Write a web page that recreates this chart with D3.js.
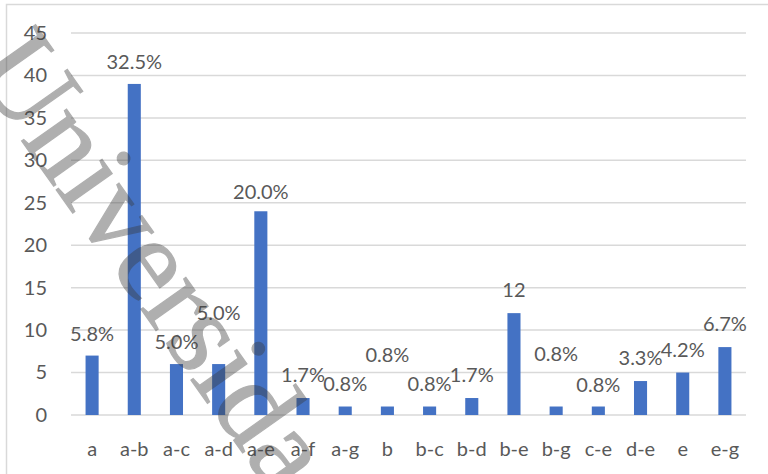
<!DOCTYPE html>
<html><head><meta charset="utf-8">
<script src="https://cdn.jsdelivr.net/npm/d3@7"></script>
<style>
html,body{margin:0;padding:0;background:#fff;}
svg{display:block;}
text{font-family:Lato,"Open Sans",sans-serif;fill:#595959;}
</style></head>
<body><svg id="c" width="768" height="474"></svg>
<script>
const categories = ["a","a-b","a-c","a-d","a-e","a-f","a-g","b","b-c","b-d","b-e","b-g","c-e","d-e","e","e-g"];
const values = [7,39,6,6,24,2,1,1,1,2,12,1,1,4,5,8];
const dataLabels = ["5.8%","32.5%","5.0%","5.0%","20.0%","1.7%","0.8%","0.8%","0.8%","1.7%","12","0.8%","0.8%","3.3%","4.2%","6.7%"];
// label anchor heights (in axis units) as placed in the original
const labelHeights = [9.7,41.7,8.7,12.1,26.4,4.8,3.8,7.2,3.8,4.8,14.8,7.3,3.7,6.8,7.8,10.8];
const yTicks = [0,5,10,15,20,25,30,35,40,45];
const watermark = "Universidad";

const svg = d3.select("#c");
const m = {left:71, right:22, top:33, bottom:59};
const W = 768, H = 474;

svg.append("rect").attr("x",6.5).attr("y",4.5).attr("width",780).attr("height",500)
  .attr("fill","#fff").attr("stroke","#d9d9d9").attr("stroke-width",1.5);

const x = d3.scaleBand().domain(categories).range([m.left, W-m.right]).paddingInner(0.69).paddingOuter(0.345);
const y = d3.scaleLinear().domain([0,45]).range([H-m.bottom, m.top]);

// gridlines
svg.append("g").selectAll("line").data(yTicks).join("line")
  .attr("x1",m.left).attr("x2",W-m.right)
  .attr("y1",d=>y(d)).attr("y2",d=>y(d))
  .attr("stroke","#d9d9d9").attr("stroke-width",1.5);

// y axis labels
const yAxis = d3.axisLeft(y).tickValues(yTicks).tickSize(0).tickPadding(0);
const ga = svg.append("g").attr("transform",`translate(47,0)`).call(yAxis);
ga.select(".domain").remove();
ga.selectAll("text").attr("font-size",20).attr("fill","#595959").style("font-family","Lato");

// bars
svg.append("g").selectAll("rect").data(values).join("rect")
  .attr("x",(d,i)=>x(categories[i]))
  .attr("width",x.bandwidth())
  .attr("y",d=>y(d))
  .attr("height",d=>y(0)-y(d))
  .attr("fill","#4472C4");

// x axis labels
const xAxis = d3.axisBottom(x).tickSize(0).tickPadding(0);
const gx = svg.append("g").attr("transform",`translate(0,${y(0)+33})`).call(xAxis);
gx.select(".domain").remove();
gx.selectAll("text").attr("font-size",20).attr("fill","#595959")
  .attr("dy",null).attr("y",0).attr("dominant-baseline","central").style("font-family","Lato");

// data labels
svg.append("g").selectAll("text").data(dataLabels).join("text")
  .attr("x",(d,i)=>x(categories[i])+x.bandwidth()/2)
  .attr("y",(d,i)=>y(labelHeights[i]))
  .attr("text-anchor","middle")
  .attr("dominant-baseline","central")
  .attr("font-size",20)
  .text(d=>d);

// watermark
svg.append("text")
  .attr("transform","translate(-30,68) rotate(54.7)")
  .style("font-family","'Liberation Serif',serif")
  .attr("font-size",120)
  .style("fill","#3a3a3a")
  .style("stroke","#3a3a3a")
  .style("stroke-width",1.2)
  .attr("opacity",0.4)
  .text(watermark);
</script></body></html>
